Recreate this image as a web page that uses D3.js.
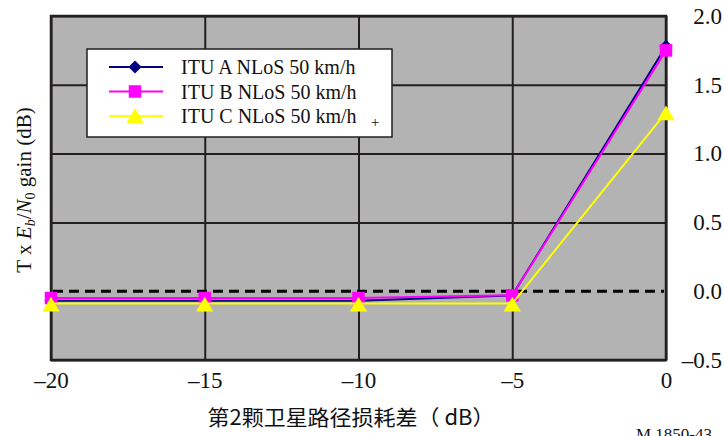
<!DOCTYPE html>
<html>
<head>
<meta charset="utf-8">
<script src="https://cdn.jsdelivr.net/npm/d3@7"></script>
<style>
  html, body { margin: 0; padding: 0; background: #fff; }
  svg { display: block; }
</style>
</head>
<body>
<svg id="chart" width="724" height="436"></svg>
<script>
// Path-loss difference of the second satellite (dB)
const xValues = [-20, -15, -10, -5, 0];
const seriesNames = ["ITU A NLoS 50 km/h", "ITU B NLoS 50 km/h", "ITU C NLoS 50 km/h"];
const ituA = [-0.07, -0.07, -0.07, -0.03, 1.78];
const ituB = [-0.05, -0.05, -0.05, -0.03, 1.75];
const ituC = [-0.09, -0.09, -0.09, -0.09, 1.30];
const xTicks = [-20, -15, -10, -5, 0];
const yTicks = [-0.5, 0, 0.5, 1.0, 1.5, 2.0];
const seriesColors = ["#000080", "#ff00ff", "#ffff00"];
const seriesSymbols = [d3.symbolDiamond2, d3.symbolSquare2, d3.symbolTriangle2];

const serif = "'Liberation Serif', 'Times New Roman', 'DejaVu Serif', serif";
const svg = d3.select("#chart").attr("font-family", serif).attr("fill", "#111");
const plot = { left: 51, right: 666, top: 16, bottom: 360 };

const x = d3.scaleLinear().domain([-20, 0]).range([plot.left, plot.right]);
const y = d3.scaleLinear().domain([-0.5, 2]).range([plot.bottom, plot.top]);
const fmtX = d => d < 0 ? "\u2013" + Math.abs(d) : String(d);
const fmtY = d => d < 0 ? "\u2013" + Math.abs(d).toFixed(1) : d.toFixed(1);

// grey plotting area
svg.append("rect")
  .attr("x", plot.left).attr("y", plot.top)
  .attr("width", plot.right - plot.left).attr("height", plot.bottom - plot.top)
  .attr("fill", "#b3b3b3");

const gridColor = "#231f20";

// vertical grid lines
svg.append("g")
  .attr("transform", `translate(0,${plot.bottom})`)
  .call(d3.axisBottom(x).tickValues(xTicks).tickSize(-(plot.bottom - plot.top)).tickFormat(""))
  .call(g => g.select(".domain").remove())
  .call(g => g.selectAll("line").attr("stroke", gridColor).attr("stroke-width", 2));

// horizontal grid lines (zero line is drawn dashed separately)
svg.append("g")
  .attr("transform", `translate(${plot.left},0)`)
  .call(d3.axisLeft(y).tickValues(yTicks.filter(v => v !== 0)).tickSize(-(plot.right - plot.left)).tickFormat(""))
  .call(g => g.select(".domain").remove())
  .call(g => g.selectAll("line").attr("stroke", gridColor).attr("stroke-width", 2));

// frame
svg.append("rect")
  .attr("x", plot.left).attr("y", plot.top)
  .attr("width", plot.right - plot.left).attr("height", plot.bottom - plot.top)
  .attr("fill", "none").attr("stroke", gridColor).attr("stroke-width", 2.5);

// dashed zero reference
svg.append("line")
  .attr("x1", plot.left + 2).attr("x2", plot.right - 2)
  .attr("y1", y(0)).attr("y2", y(0))
  .attr("stroke", "#000").attr("stroke-width", 3)
  .attr("stroke-dasharray", "10,6");

// x tick labels
svg.append("g")
  .attr("transform", `translate(0,${plot.bottom})`)
  .call(d3.axisBottom(x).tickValues(xTicks).tickSize(0).tickPadding(12).tickFormat(fmtX))
  .attr("font-family", serif).attr("font-size", 23)
  .call(g => g.select(".domain").remove())
  .call(g => g.selectAll("text").attr("fill", "#111"));

// y tick labels on the right
svg.append("g")
  .attr("transform", `translate(722,0)`)
  .call(d3.axisLeft(y).tickValues(yTicks).tickSize(0).tickPadding(0).tickFormat(fmtY))
  .attr("font-family", serif).attr("font-size", 23)
  .call(g => g.select(".domain").remove())
  .call(g => g.selectAll("text").attr("fill", "#111"));

// series
const allSeries = [ituA, ituB, ituC];
const line = d3.line().x((d, i) => x(xValues[i])).y(d => y(d));
const markerSizes = [110, 200, 210];

allSeries.forEach((vals, si) => {
  svg.append("path")
    .attr("d", line(vals))
    .attr("fill", "none")
    .attr("stroke", seriesColors[si])
    .attr("stroke-width", 2);
  svg.append("g").selectAll("path")
    .data(vals)
    .join("path")
    .attr("transform", (d, i) => `translate(${x(xValues[i])},${y(d) + (si === 2 ? 3 : 0)})`)
    .attr("d", d3.symbol().type(seriesSymbols[si]).size(markerSizes[si]))
    .attr("fill", seriesColors[si]);
});

// legend
const legend = svg.append("g").attr("transform", "translate(87,49)");
legend.append("rect")
  .attr("width", 305).attr("height", 88)
  .attr("fill", "#fff").attr("stroke", gridColor).attr("stroke-width", 1.5);
seriesNames.forEach((name, i) => {
  const row = legend.append("g").attr("transform", `translate(0,${18 + i * 24.5})`);
  row.append("line")
    .attr("x1", 22).attr("x2", 76).attr("y1", 0).attr("y2", 0)
    .attr("stroke", seriesColors[i]).attr("stroke-width", 2);
  row.append("path")
    .attr("transform", `translate(48,${i === 2 ? 2 : 0})`)
    .attr("d", d3.symbol().type(seriesSymbols[i]).size(markerSizes[i]))
    .attr("fill", seriesColors[i]);
  row.append("text")
    .attr("x", 94).attr("y", 7)
    .attr("font-size", 20)
    .text(name);
});
legend.append("text")
  .attr("x", 284).attr("y", 78)
  .attr("font-size", 15)
  .text("+");

// axis titles
svg.append("text")
  .attr("x", 351).attr("y", 425)
  .attr("text-anchor", "middle")
  .attr("font-family", "'Noto Sans CJK SC', sans-serif")
  .attr("font-size", 21)
  .attr("textLength", 287)
  .attr("lengthAdjust", "spacingAndGlyphs")
  .text("第2颗卫星路径损耗差（ dB）");

const yTitle = svg.append("text")
  .attr("transform", "translate(31,190) rotate(-90)")
  .attr("text-anchor", "middle")
  .attr("font-size", 21);
yTitle.append("tspan").text("T x ");
yTitle.append("tspan").attr("font-style", "italic").text("E");
yTitle.append("tspan").attr("font-style", "italic").attr("font-size", 14).attr("dy", 4).text("b");
yTitle.append("tspan").attr("dy", -4).text("/");
yTitle.append("tspan").attr("font-style", "italic").text("N");
yTitle.append("tspan").attr("font-size", 14).attr("dy", 4).text("0");
yTitle.append("tspan").attr("dy", -4).text(" gain (dB)");

// figure reference
svg.append("text")
  .attr("x", 636).attr("y", 440)
  .attr("font-size", 17)
  .text("M.1850-43");
</script>
</body>
</html>
